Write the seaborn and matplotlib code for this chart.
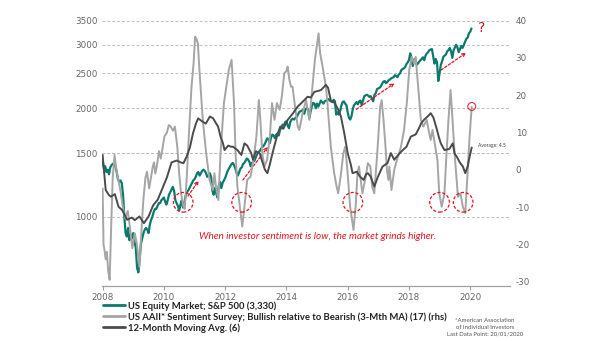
import numpy as np
import pandas as pd
import matplotlib
matplotlib.use("Agg")
import matplotlib.pyplot as plt
import seaborn as sns
from matplotlib import font_manager as fm
from matplotlib.lines import Line2D
from matplotlib.ticker import NullLocator

# ---------------- data ----------------
# S&P 500, half-monthly readings (24 per year) starting 2008.0
sp500_values = [
    1420, 1360, 1380, 1330, 1350, 1310, 1370, 1390, 1400, 1410, 1380, 1330,
    1270, 1250, 1260, 1240, 1150, 1000, 900, 880, 930, 860, 890, 870,          # 2008
    900, 850, 820, 720, 700, 760, 840, 870, 900, 920, 930, 920,
    900, 950, 980, 1000, 1030, 1050, 1050, 1070, 1090, 1090, 1110, 1120,      # 2009
    1130, 1100, 1080, 1110, 1150, 1170, 1190, 1210, 1180, 1110, 1090, 1070,
    1040, 1080, 1110, 1060, 1090, 1140, 1170, 1180, 1200, 1220, 1240, 1260,   # 2010
    1270, 1290, 1320, 1330, 1300, 1320, 1340, 1350, 1340, 1320, 1290, 1300,
    1320, 1290, 1180, 1150, 1200, 1160, 1130, 1220, 1250, 1200, 1240, 1260,   # 2011
    1280, 1310, 1340, 1360, 1380, 1400, 1410, 1390, 1360, 1320, 1300, 1330,
    1360, 1370, 1400, 1410, 1430, 1450, 1440, 1420, 1380, 1410, 1420, 1430,   # 2012
    1460, 1490, 1510, 1520, 1540, 1560, 1570, 1590, 1620, 1650, 1640, 1600,
    1660, 1690, 1680, 1650, 1690, 1700, 1680, 1740, 1770, 1800, 1790, 1830,   # 2013
    1840, 1790, 1760, 1830, 1860, 1870, 1860, 1880, 1890, 1920, 1950, 1960,
    1970, 1980, 1930, 1990, 2000, 1980, 1880, 1960, 2030, 2070, 2060, 2000,   # 2014
    2060, 2020, 2060, 2100, 2080, 2060, 2090, 2100, 2110, 2120, 2100, 2090,
    2080, 2110, 2090, 1920, 1950, 1920, 1960, 2030, 2080, 2090, 2060, 2040,   # 2015
    1950, 1880, 1860, 1900, 1990, 2040, 2060, 2080, 2050, 2090, 2100, 2040,
    2100, 2160, 2170, 2180, 2170, 2150, 2160, 2130, 2090, 2180, 2200, 2260,   # 2016
    2270, 2280, 2300, 2340, 2370, 2380, 2350, 2360, 2390, 2400, 2420, 2430,
    2440, 2470, 2460, 2440, 2480, 2500, 2550, 2570, 2580, 2600, 2650, 2680,   # 2017
    2720, 2840, 2760, 2620, 2730, 2740, 2640, 2660, 2690, 2720, 2740, 2770,
    2720, 2800, 2840, 2860, 2900, 2910, 2920, 2790, 2660, 2740, 2680, 2380,   # 2018
    2500, 2640, 2700, 2780, 2800, 2820, 2880, 2900, 2940, 2880, 2760, 2900,
    2950, 3000, 2950, 2860, 2920, 2980, 2940, 3000, 3060, 3120, 3140, 3230,   # 2019
    3260, 3330,                                                               # 2020
]
sp500_dates = [2008 + i / 24 for i in range(len(sp500_values))]

# AAII bull-bear spread, 3-month MA (rhs)
sent_dates = [
    2008.00, 2008.03, 2008.07, 2008.10, 2008.14, 2008.18, 2008.23, 2008.28, 2008.33, 2008.39,
    2008.45, 2008.52, 2008.59, 2008.66, 2008.74, 2008.82, 2008.90, 2008.97, 2009.05, 2009.12,
    2009.20, 2009.27, 2009.33, 2009.40, 2009.45, 2009.52, 2009.58, 2009.64, 2009.68, 2009.72,
    2009.77, 2009.84, 2009.90, 2009.96, 2010.02, 2010.10, 2010.16, 2010.22, 2010.30, 2010.36,
    2010.44, 2010.50, 2010.56, 2010.63, 2010.68, 2010.74, 2010.82, 2010.90, 2010.97, 2011.02,
    2011.07, 2011.11, 2011.16, 2011.27, 2011.38, 2011.49, 2011.60, 2011.65, 2011.70, 2011.78,
    2011.85, 2011.96, 2012.12, 2012.21, 2012.29, 2012.34, 2012.40, 2012.48, 2012.56, 2012.63,
    2012.72, 2012.83, 2012.94, 2013.02, 2013.10, 2013.15, 2013.21, 2013.28, 2013.37, 2013.46,
    2013.53, 2013.61, 2013.69, 2013.78, 2013.85, 2013.93, 2014.00, 2014.04, 2014.10, 2014.15,
    2014.20, 2014.31, 2014.37, 2014.42, 2014.53, 2014.64, 2014.75, 2014.85, 2014.93, 2015.02,
    2015.05, 2015.10, 2015.18, 2015.29, 2015.34, 2015.45, 2015.56, 2015.64, 2015.69, 2015.77,
    2015.86, 2015.92, 2015.99, 2016.08, 2016.19, 2016.26, 2016.32, 2016.37, 2016.48, 2016.59,
    2016.66, 2016.74, 2016.80, 2016.87, 2016.98, 2017.06, 2017.11, 2017.17, 2017.25, 2017.28,
    2017.33, 2017.36, 2017.43, 2017.52, 2017.61, 2017.68, 2017.74, 2017.84, 2017.93, 2018.01,
    2018.09, 2018.17, 2018.22, 2018.30, 2018.39, 2018.47, 2018.58, 2018.64, 2018.71, 2018.77,
    2018.86, 2018.93, 2018.99, 2019.07, 2019.16, 2019.21, 2019.29, 2019.36, 2019.41, 2019.49,
    2019.54, 2019.60, 2019.68, 2019.76, 2019.84, 2019.87, 2019.92, 2019.98, 2020.05,
]
sent_values = [
    -5.0, -20.0, -22.0, -24.0, -22.0, -27.0, -29.5, -15.0, -2.0, 4.0,
    0.0, -3.0, -6.0, -10.0, -13.0, -11.0, -16.0, -21.0, -17.0, -20.0,
    -26.0, -16.0, -8.0, -2.0, -0.5, -5.0, -2.0, 1.0, 2.0, -1.0,
    1.0, 5.0, 3.0, 6.0, 9.0, 10.0, 12.0, 11.6, 10.5, 11.6,
    6.0, -1.0, -6.3, -9.6, -10.5, -3.0, 10.0, 22.0, 28.6, 35.7,
    35.0, 33.9, 26.8, 13.4, 4.5, -2.7, -5.4, -0.9, -4.5, -8.1,
    4.5, 17.9, 26.8, 29.5, 17.9, 4.5, -4.5, -9.9, -15.2, -9.9,
    -2.7, -1.8, 3.6, 8.9, 18.7, 13.4, 4.5, 0.9, 2.7, 8.9,
    17.9, 13.4, 17.9, 16.1, 19.6, 25.9, 26.5, 27.7, 24.0, 22.3,
    22.3, 15.2, 11.6, 10.7, 15.2, 18.7, 13.4, 22.3, 29.5, 34.8,
    36.6, 31.3, 27.7, 22.3, 17.9, 6.2, -0.9, -4.5, -6.3, -1.8,
    4.5, 6.2, 0.0, -9.9, -16.1, -9.9, -0.9, 0.9, -6.3, -1.8,
    1.8, 0.9, -4.5, -6.3, 6.2, 16.9, 18.7, 13.4, 4.5, 0.0,
    -2.7, 0.9, -5.4, 0.0, 2.7, 4.5, 6.2, 10.7, 17.9, 26.8,
    30.3, 28.5, 30.3, 22.3, 13.4, 11.6, 13.4, 10.7, 8.0, 10.7,
    6.2, 2.7, -6.3, -9.9, -6.3, 1.8, 13.4, 21.4, 15.2, 4.5,
    -0.9, -7.2, -6.3, -9.9, -11.6, -7.2, 0.0, 8.9, 16.9,
]

# 12-month moving average of the spread (rhs)
ma_dates = [
    2008.00, 2008.10, 2008.20, 2008.27, 2008.40, 2008.52, 2008.64, 2008.80, 2008.95, 2009.05,
    2009.20, 2009.35, 2009.50, 2009.65, 2009.80, 2009.95, 2010.10, 2010.25, 2010.42, 2010.55,
    2010.64, 2010.74, 2010.85, 2010.95, 2011.05, 2011.12, 2011.25, 2011.37, 2011.50, 2011.61,
    2011.70, 2011.77, 2011.85, 2011.93, 2011.98, 2012.10, 2012.19, 2012.26, 2012.40, 2012.53,
    2012.63, 2012.72, 2012.85, 2012.91, 2013.00, 2013.13, 2013.20, 2013.30, 2013.38, 2013.46,
    2013.52, 2013.60, 2013.72, 2013.80, 2013.90, 2014.04, 2014.20, 2014.37, 2014.50, 2014.69,
    2014.80, 2014.91, 2015.05, 2015.13, 2015.29, 2015.36, 2015.45, 2015.58, 2015.70, 2015.78,
    2015.89, 2016.00, 2016.10, 2016.16, 2016.30, 2016.40, 2016.52, 2016.60, 2016.66, 2016.75,
    2016.87, 2016.98, 2017.14, 2017.30, 2017.41, 2017.52, 2017.68, 2017.80, 2017.92, 2018.06,
    2018.22, 2018.32, 2018.40, 2018.50, 2018.61, 2018.71, 2018.80, 2018.90, 2018.97, 2019.04,
    2019.16, 2019.32, 2019.43, 2019.49, 2019.57, 2019.66, 2019.76, 2019.84, 2019.92, 2019.98,
    2020.05,
]
ma_values = [
    4.0, -5.4, -6.7, -7.2, -6.5, -9.9, -10.8, -13.4, -12.8, -13.5,
    -12.5, -14.3, -12.5, -9.5, -8.0, -5.0, -2.0, 2.0, 2.5, 2.0,
    1.8, 3.5, 6.0, 9.8, 12.5, 13.8, 13.0, 12.4, 14.3, 13.8,
    12.5, 11.6, 8.9, 7.1, 5.3, 6.5, 6.2, 6.2, 5.3, 4.0,
    7.1, 6.5, 4.5, 2.7, 5.0, 4.4, 2.5, 0.0, -0.9, 1.5,
    3.6, 6.2, 9.8, 11.6, 11.0, 13.4, 15.0, 17.0, 18.0, 19.6,
    19.4, 20.9, 21.2, 21.4, 22.8, 22.0, 18.6, 17.9, 16.0, 14.3,
    9.8, 4.5, 1.5, -0.9, -0.5, -1.8, -2.7, -1.2, -0.9, -1.8,
    -4.5, -2.0, 0.9, 1.8, 4.5, 2.7, 4.3, 5.3, 6.2, 8.9,
    9.5, 11.0, 12.5, 13.5, 14.3, 15.2, 14.0, 11.2, 9.0, 7.1,
    5.3, 5.6, 7.1, 4.4, 3.4, 2.0, 0.9, -0.9, 1.0, 3.5,
    6.0,
]

left_ticks = [1000, 1500, 2000, 2500, 3000, 3500]
right_ticks = [-30, -20, -10, 0, 10, 20, 30, 40]
x_ticks = [2008, 2010, 2012, 2014, 2016, 2018, 2020]

legend_labels = [
    "US Equity Market; S&P 500 (3,330)",
    "US AAII* Sentiment Survey; Bullish relative to Bearish (3-Mth MA) (17) (rhs)",
    "12-Month Moving Avg. (6)",
]
average_value = 4.5

# annotation marks (sentiment lows, latest reading, trend arrows on S&P)
circle_years = [2010.63, 2012.54, 2016.17, 2019.00, 2019.77]
circle_levels = [-8.7, -8.7, -8.7, -8.7, -8.7]
latest_year, latest_level = 2020.05, 17.0
arrow_starts = [(2010.79, 1141), (2012.58, 1264), (2016.28, 1986), (2019.05, 2553)]
arrow_ends = [(2011.14, 1260), (2013.40, 1564), (2017.53, 2345), (2019.87, 2852)]

# ---------------- style ----------------
sns.set_theme(style="white")
plt.rcParams["axes.unicode_minus"] = False

names = {f.name for f in fm.fontManager.ttflist}
if "Liberation Sans Narrow" in names:
    NARROW = "Liberation Sans Narrow"
elif "Lato" in names:
    NARROW = "Lato"
else:
    NARROW = "DejaVu Sans"
plt.rcParams["font.family"] = ["DejaVu Sans"]

TEAL = "#0b7a6d"
LIGHT = "#a5a5a5"
DARK = "#4b4b4b"
RED = "#e2141e"
TXT = "#666666"

fig = plt.figure(figsize=(6.05, 3.41), dpi=100)
ax = fig.add_axes([0.1681, 0.1622, 0.6749, 0.7771])
ax.set_yscale("log")

df_sp = pd.DataFrame({"year": sp500_dates, "value": sp500_values})
df_sent = pd.DataFrame({"year": sent_dates, "value": sent_values})
df_ma = pd.DataFrame({"year": ma_dates, "value": ma_values})

sns.lineplot(data=df_sp, x="year", y="value", ax=ax, color=TEAL, lw=1.6,
             estimator=None, sort=False, zorder=3)
ax2 = ax.twinx()
sns.lineplot(data=df_sent, x="year", y="value", ax=ax2, color=LIGHT, lw=1.4,
             estimator=None, sort=False, zorder=2)
sns.lineplot(data=df_ma, x="year", y="value", ax=ax2, color=DARK, lw=1.4,
             estimator=None, sort=False, zorder=3)

# axes
ax.set_xlim(2007.97, 2021.3)
ax.set_ylim(643, 3500)
ax2.set_ylim(-31.07, 40)
ax.set_yticks(left_ticks)
ax.set_yticklabels([str(t) for t in left_ticks])
ax.yaxis.set_minor_locator(NullLocator())
ax2.set_yticks(right_ticks)
ax2.set_yticklabels([str(t) for t in right_ticks])
ax.set_xticks(x_ticks)
ax.set_xticklabels([str(t) for t in x_ticks])
for a in (ax, ax2):
    a.set_xlabel("")
    a.set_ylabel("")
    for s in a.spines.values():
        s.set_visible(False)
ax.spines["bottom"].set_visible(True)
ax.spines["bottom"].set_color("#a0a0a0")
ax.spines["bottom"].set_linewidth(0.9)
ax.grid(axis="y", which="major", ls=(0, (3, 2)), color="#bdbdbd", lw=0.7)
ax.grid(axis="x", visible=False)
ax2.grid(False)
ax.patch.set_alpha(0)
fig.patch.set_facecolor("white")

ax.tick_params(axis="y", length=0, pad=3, labelsize=6.3, labelcolor=TXT)
ax2.tick_params(axis="y", length=0, pad=4, labelsize=6.3, labelcolor=TXT)
ax.tick_params(axis="x", length=3, width=0.8, color="#a0a0a0", pad=2,
               labelsize=6.3, labelcolor=TXT, bottom=True)

# average line
ax2.axhline(average_value, ls=(0, (3, 2)), color="#bdbdbd", lw=0.7, zorder=1)
ax2.text(2020.25, 6.4, f"Average: {average_value}", fontsize=3.6, color="#444444",
         va="center", ha="left", family=NARROW)

# circles
ax2.scatter(circle_years, circle_levels, s=200, facecolors="none", edgecolors=RED,
            linestyle=(0, (2.5, 1.5)), linewidths=0.9, zorder=5)
ax2.scatter([latest_year], [latest_level], s=32, facecolors="none", edgecolors=RED,
            linewidths=0.7, zorder=5)

# arrows
for (x0, y0), (x1, y1) in zip(arrow_starts, arrow_ends):
    ax.annotate("", xy=(x1, y1), xytext=(x0, y0),
                arrowprops=dict(arrowstyle="->", color=RED, lw=0.9,
                                linestyle=(0, (2, 1.5)), mutation_scale=6,
                                shrinkA=0, shrinkB=0), zorder=6)

ax2.text(2015.02, -17.9, "When investor sentiment is low, the market grinds higher.",
         color=RED, fontsize=7.2, style="italic", ha="center", va="center",
         family=NARROW)
ax2.text(2020.37, 38.0, "?", color=RED, fontsize=10, ha="center", va="center")

# legend
handles = [Line2D([], [], color=c, lw=2) for c in (TEAL, LIGHT, DARK)]
leg = fig.legend(handles, legend_labels, loc="upper left",
                 bbox_to_anchor=(0.170, 0.117), frameon=False,
                 handlelength=2.3, handletextpad=0.4, labelspacing=0.15,
                 borderpad=0, borderaxespad=0,
                 prop=fm.FontProperties(size=6.8, weight="bold", family=NARROW))
for t in leg.get_texts():
    t.set_color("#222222")

fig.text(0.8017, 0.0396,
         "*American Association\nof Individual Investors\nLast Data Point: 20/01/2020",
         ha="center", va="center", fontsize=4.3, color="#555555", linespacing=1.45,
         multialignment="center", family=NARROW)

fig.savefig("out.png", dpi=100, facecolor="white")
